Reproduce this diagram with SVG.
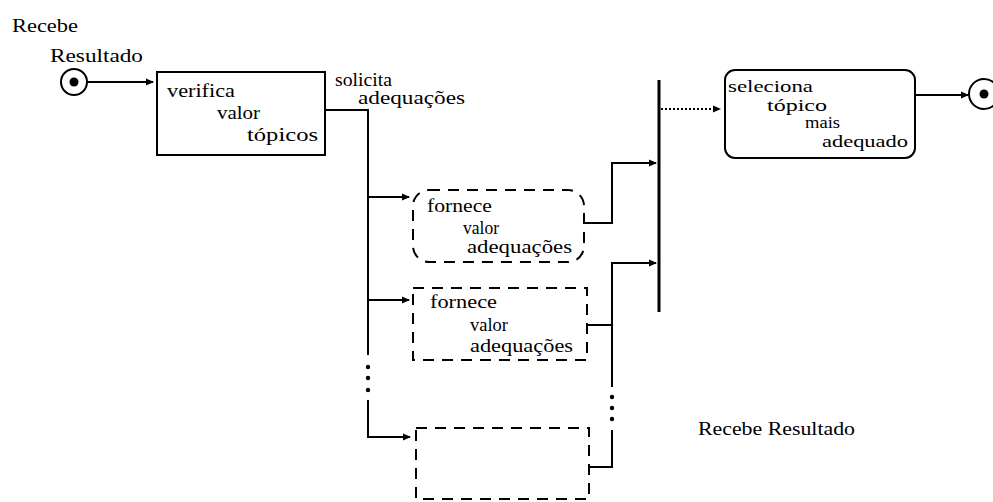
<svg xmlns="http://www.w3.org/2000/svg" width="993" height="502" viewBox="0 0 993 502">
<defs>
<marker id="ah" markerWidth="8" markerHeight="8" refX="7" refY="4" orient="auto" markerUnits="userSpaceOnUse">
<path d="M0,0.5 L8,4 L0,7.5 Z" fill="#000"/>
</marker>
<style>
text{font-family:"Liberation Serif","Times New Roman",serif;font-size:18px;fill:#000}
.sm{font-size:17px}
.box{fill:#fff;stroke:#000;stroke-width:2}
.dash{fill:#fff;stroke:#000;stroke-width:2;stroke-dasharray:11 8}
.ln{fill:none;stroke:#000;stroke-width:2}
.arr{fill:none;stroke:#000;stroke-width:2;marker-end:url(#ah)}
</style>
</defs>
<rect width="993" height="502" fill="#fff"/>

<g id="label-start">
<text x="12" y="32" textLength="66" lengthAdjust="spacingAndGlyphs">Recebe</text>
<text x="50" y="62" textLength="93" lengthAdjust="spacingAndGlyphs">Resultado</text>
</g>

<g id="start">
<circle cx="74" cy="82" r="13" fill="#fff" stroke="#000" stroke-width="2"/>
<circle cx="74" cy="82" r="4.5" fill="#000"/>
</g>

<g id="verifica">
<rect class="box" x="157" y="72" width="168" height="83"/>
<text x="167" y="97" textLength="68" lengthAdjust="spacingAndGlyphs">verifica</text>
<text x="217" y="119" textLength="43" lengthAdjust="spacingAndGlyphs">valor</text>
<text x="247" y="141" textLength="71" lengthAdjust="spacingAndGlyphs">tópicos</text>
</g>

<g id="label-solicita">
<text x="335" y="86" textLength="57" lengthAdjust="spacingAndGlyphs">solicita</text>
<text x="358" y="104" textLength="107" lengthAdjust="spacingAndGlyphs">adequações</text>
</g>

<g id="fornece1">
<rect class="dash" x="413" y="190" width="171" height="72" rx="16"/>
<text x="427" y="212" textLength="65" lengthAdjust="spacingAndGlyphs">fornece</text>
<text x="463" y="234" textLength="36" lengthAdjust="spacingAndGlyphs">valor</text>
<text x="467" y="253" textLength="105" lengthAdjust="spacingAndGlyphs">adequações</text>
</g>

<g id="fornece2">
<rect class="dash" x="413" y="288" width="174" height="72"/>
<text x="430" y="308" textLength="67" lengthAdjust="spacingAndGlyphs">fornece</text>
<text x="470" y="331" textLength="38" lengthAdjust="spacingAndGlyphs">valor</text>
<text x="470" y="352" textLength="103" lengthAdjust="spacingAndGlyphs">adequações</text>
</g>

<g id="fornece3">
<rect class="dash" x="416" y="428" width="173" height="71"/>
</g>

<g id="join">
<line x1="659" y1="80" x2="659" y2="312" stroke="#000" stroke-width="3"/>
</g>

<g id="seleciona">
<rect class="box" x="725" y="70" width="190" height="88" rx="10"/>
<text class="sm" x="728" y="92" textLength="85" lengthAdjust="spacingAndGlyphs">seleciona</text>
<text class="sm" x="767" y="111" textLength="60" lengthAdjust="spacingAndGlyphs">tópico</text>
<text class="sm" x="805" y="128" textLength="35" lengthAdjust="spacingAndGlyphs">mais</text>
<text class="sm" x="822" y="147" textLength="86" lengthAdjust="spacingAndGlyphs">adequado</text>
</g>

<g id="end">
<circle cx="984" cy="94" r="15" fill="#fff" stroke="#000" stroke-width="2"/>
<circle cx="984" cy="94" r="4.5" fill="#000"/>
</g>

<g id="label-end">
<text x="698" y="435" textLength="157" lengthAdjust="spacingAndGlyphs">Recebe Resultado</text>
</g>

<g id="connectors">
<path class="arr" d="M87,82 H153"/>
<path class="ln" d="M325,110 H368 V355"/>
<path class="arr" d="M368,197 H409"/>
<path class="arr" d="M368,300 H409"/>
<path class="arr" d="M368,400 V437 H410"/>
<circle cx="368" cy="367" r="2.2"/>
<circle cx="368" cy="378" r="2.2"/>
<circle cx="368" cy="390" r="2.2"/>
<path class="arr" d="M584,223 H612 V163 H656"/>
<path class="ln" d="M587,325 H612"/>
<path class="arr" d="M612,387 V263 H656"/>
<circle cx="612" cy="397" r="2.2"/>
<circle cx="612" cy="408" r="2.2"/>
<circle cx="612" cy="419" r="2.2"/>
<path class="ln" d="M589,467 H612 V430"/>
<path d="M661,109 H720" fill="none" stroke="#000" stroke-width="2" stroke-dasharray="2 2" marker-end="url(#ah)"/>
<path class="arr" d="M915,95 H968"/>
</g>
</svg>
